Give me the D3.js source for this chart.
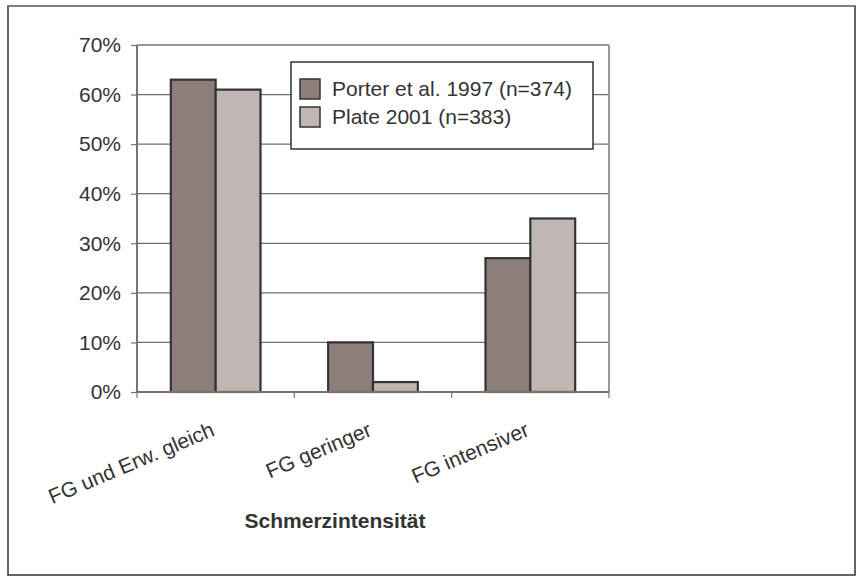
<!DOCTYPE html>
<html>
<head>
<meta charset="utf-8">
<script src="https://cdn.jsdelivr.net/npm/d3@7"></script>
<style>
  html, body { margin: 0; padding: 0; background: #fff; }
  svg { display: block; }
  text { font-family: "Liberation Sans", Arial, sans-serif; fill: #333; }
</style>
</head>
<body>
<svg id="chart" width="863" height="581"></svg>
<script>
const categories = ["FG und Erw. gleich", "FG geringer", "FG intensiver"];
const seriesNames = ["Porter et al. 1997 (n=374)", "Plate 2001 (n=383)"];
const porterValues = [0.63, 0.10, 0.27];
const plateValues = [0.61, 0.02, 0.35];
const yTicks = [0, 0.1, 0.2, 0.3, 0.4, 0.5, 0.6, 0.7];
const seriesColors = ["#8c7f7b", "#c0b6b4"];
const axisTitle = "Schmerzintensität";

const svg = d3.select("#chart");
const W = 863, H = 581;

// outer chart border
svg.append("rect").attr("x", 8).attr("y", 6).attr("width", W - 16).attr("height", H - 12)
  .attr("fill", "#fff").attr("stroke", "#333").attr("stroke-width", 1.5);
svg.append("line").attr("x1", 8).attr("x2", W - 8).attr("y1", 6).attr("y2", 6)
  .attr("stroke", "#8a8a8a").attr("stroke-width", 1.5);

const plot = { left: 137, right: 609, top: 45, bottom: 392 };

const y = d3.scaleLinear().domain([0, 0.7]).range([plot.bottom, plot.top]);
const x = d3.scaleBand().domain(categories).range([plot.left, plot.right])
  .paddingInner(0.43).paddingOuter(0.215);
const x1 = d3.scaleBand().domain(seriesNames).range([0, x.bandwidth()]).padding(0);

// gridlines
svg.append("g").selectAll("line").data(yTicks.filter(t => t > 0 && t < 0.7)).join("line")
  .attr("x1", plot.left).attr("x2", plot.right)
  .attr("y1", d => y(d)).attr("y2", d => y(d))
  .attr("stroke", "#6e6e6e").attr("stroke-width", 1.2);

// plot frame top/right
svg.append("line").attr("x1", plot.left).attr("x2", plot.right).attr("y1", plot.top).attr("y2", plot.top)
  .attr("stroke", "#a3948f").attr("stroke-width", 2);
svg.append("line").attr("x1", plot.right).attr("x2", plot.right).attr("y1", plot.top).attr("y2", plot.bottom)
  .attr("stroke", "#a3948f").attr("stroke-width", 2);

// bars
const data = categories.map((c, i) => ({ cat: c, vals: [porterValues[i], plateValues[i]] }));
const groups = svg.append("g").selectAll("g").data(data).join("g")
  .attr("transform", d => `translate(${x(d.cat)},0)`);
groups.selectAll("rect").data(d => d.vals.map((v, j) => ({ v, s: seriesNames[j], j }))).join("rect")
  .attr("x", d => x1(d.s))
  .attr("y", d => y(d.v))
  .attr("width", x1.bandwidth())
  .attr("height", d => y(0) - y(d.v))
  .attr("fill", d => seriesColors[d.j])
  .attr("stroke", "#333").attr("stroke-width", 2.2);

// y axis
const yAxis = d3.axisLeft(y).tickValues(yTicks).tickFormat(d3.format(".0%")).tickSize(6).tickPadding(10);
const gy = svg.append("g").attr("transform", `translate(${plot.left},0)`).call(yAxis);
gy.select(".domain").attr("stroke", "#7d716e").attr("stroke-width", 2).attr("d", `M0,${plot.top}V${plot.bottom}`);
gy.selectAll(".tick line").attr("stroke", "#7d716e").attr("stroke-width", 1.2);
gy.selectAll(".tick text").attr("font-size", 21).attr("font-family", "Liberation Sans, Arial, sans-serif").attr("fill", "#333");

// x axis (ticks at category boundaries)
const boundaries = d3.range(categories.length + 1).map(i => plot.left + i * x.step());
svg.append("line").attr("x1", plot.left).attr("x2", plot.right).attr("y1", plot.bottom).attr("y2", plot.bottom)
  .attr("stroke", "#7d716e").attr("stroke-width", 2);
svg.append("g").selectAll("line").data(boundaries).join("line")
  .attr("x1", d => d).attr("x2", d => d).attr("y1", plot.bottom).attr("y2", plot.bottom + 6)
  .attr("stroke", "#7d716e").attr("stroke-width", 1.2);

// category labels (rotated)
svg.append("g").selectAll("text").data(categories).join("text")
  .attr("transform", d => `translate(${x(d) + x.bandwidth() / 2},435) rotate(-23)`)
  .attr("text-anchor", "end")
  .attr("font-size", 21)
  .text(d => d);

// axis title
svg.append("text").attr("x", 335).attr("y", 528).attr("text-anchor", "middle")
  .attr("font-size", 21).attr("font-weight", "bold").text(axisTitle);

// legend
const lg = svg.append("g");
lg.append("rect").attr("x", 291).attr("y", 62).attr("width", 302).attr("height", 87)
  .attr("fill", "#fff").attr("stroke", "#333").attr("stroke-width", 1.5);
const items = lg.selectAll("g.item").data(seriesNames).join("g").attr("class", "item")
  .attr("transform", (d, i) => `translate(300,${79 + i * 28})`);
items.append("rect").attr("width", 20).attr("height", 20)
  .attr("fill", (d, i) => seriesColors[i]).attr("stroke", "#333").attr("stroke-width", 1.5);
items.append("text").attr("x", 32).attr("y", 17).attr("font-size", 21).text(d => d);
</script>
</body>
</html>
